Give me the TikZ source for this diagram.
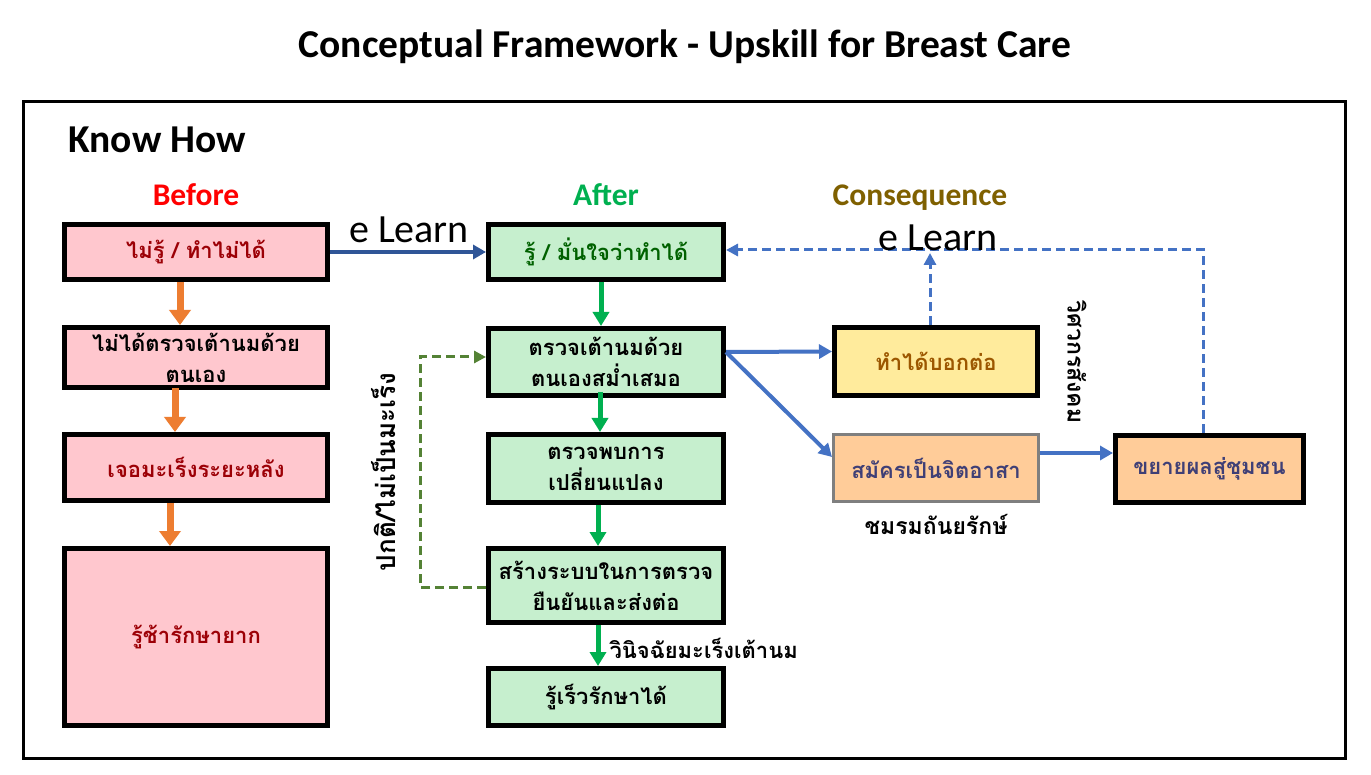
\documentclass[tikz,border=0pt]{standalone}
\usepackage{fontspec}
\setmainfont{Carlito}
\newfontfamily\thai[Script=Thai]{Loma}
\usetikzlibrary{arrows.meta}
\definecolor{pinkF}{HTML}{FFC7CE}
\definecolor{redT}{HTML}{9C0006}
\definecolor{greenF}{HTML}{C6EFCE}
\definecolor{greenT}{HTML}{006100}
\definecolor{yellowF}{HTML}{FFEB9C}
\definecolor{yellowT}{HTML}{9C5700}
\definecolor{orangeF}{HTML}{FFCC99}
\definecolor{inputT}{HTML}{3F3F76}
\definecolor{inputB}{HTML}{7F7F7F}
\definecolor{arrOrange}{HTML}{ED7D31}
\definecolor{arrGreen}{HTML}{00B050}
\definecolor{arrBlue}{HTML}{4472C4}
\definecolor{arrNavy}{HTML}{2F5597}
\definecolor{dashGreen}{HTML}{548235}
\definecolor{hdRed}{HTML}{FF0000}
\definecolor{hdGreen}{HTML}{00B050}
\definecolor{hdBrown}{HTML}{7F6000}
\begin{document}
\begin{tikzpicture}[x=1pt,y=-1pt,
  box/.style={draw=black, line width=5pt, align=center, inner sep=0pt,
    font=\thai\bfseries\fontsize{22}{31}\selectfont},
  pinkbox/.style={box, fill=pinkF, text=redT},
  greenbox/.style={box, fill=greenF, text=black},
  yellowbox/.style={box, fill=yellowF, text=yellowT},
  inputbox/.style={box, fill=orangeF, text=inputT},
  heading/.style={anchor=base, font=\bfseries\fontsize{31.5}{34}\selectfont},
  thailabel/.style={font=\thai\bfseries\fontsize{22}{26}\selectfont, text=black},
  elabel/.style={font=\fontsize{40}{42}\selectfont},
  orangearrow/.style={draw=arrOrange, line width=7pt, -{Triangle[width=21pt,length=15pt]}},
  greenarrow/.style={draw=arrGreen, line width=5pt, -{Triangle[width=16pt,length=14pt]}},
  bluearrow/.style={draw=arrBlue, line width=4pt, -{Triangle[width=14pt,length=13pt]}},
  navyarrow/.style={draw=arrNavy, line width=4pt, -{Triangle[width=14pt,length=13pt]}},
  greendash/.style={draw=dashGreen, line width=3pt, dash pattern=on 9pt off 5pt, -{Triangle[width=12pt,length=12pt]}},
  bluedash/.style={draw=arrBlue, line width=3pt, dash pattern=on 9pt off 5pt, -{Triangle[width=12pt,length=12pt]}}
]
\useasboundingbox (0,0) rectangle (1371,775);
\fill[white] (0,0) rectangle (1371,775);

% title and frame
\node[font=\bfseries\fontsize{39.5}{42}\selectfont] (title) at (685,47) {Conceptual Framework - Upskill for Breast Care};
\draw[line width=3pt] (23.5,101.5) rectangle (1345.5,758.5);
\node[anchor=west, font=\bfseries\fontsize{39.5}{42}\selectfont] (know) at (65,140) {Know How};

% headings
\node[heading, text=hdRed] (before) at (196,206) {Before};
\node[heading, text=hdGreen] (after) at (606,206) {After};
\node[heading, text=hdBrown] (conseq) at (920,206) {Consequence};

% before column
\node[pinkbox, minimum width=263pt, minimum height=55pt] (b1) at (196,252) {ไม่รู้ / ทำไม่ได้};
\node[pinkbox, text=black, minimum width=263pt, minimum height=60pt] (b2) at (196,357.5) {ไม่ได้ตรวจเต้านมด้วย\\ตนเอง};
\node[pinkbox, minimum width=263pt, minimum height=66pt] (b3) at (196,467.5) {เจอมะเร็งระยะหลัง};
\node[pinkbox, minimum width=263pt, minimum height=177pt] (b4) at (196,637) {รู้ช้ารักษายาก};

% after column
\node[greenbox, text=greenT, minimum width=235pt, minimum height=55pt] (a1) at (606,252) {รู้ / มั่นใจว่าทำได้};
\node[greenbox, minimum width=235pt, minimum height=67pt] (a2) at (606,362) {ตรวจเต้านมด้วย\\ตนเองสม่ำเสมอ};
\node[greenbox, minimum width=235pt, minimum height=68pt] (a3) at (606,468.5) {ตรวจพบการ\\เปลี่ยนแปลง};
\node[greenbox, minimum width=235pt, minimum height=74pt] (a4) at (606,585.5) {สร้างระบบในการตรวจ\\ยืนยันและส่งต่อ};
\node[greenbox, minimum width=235pt, minimum height=57pt] (a5) at (606,697) {รู้เร็วรักษาได้};

% consequence column
\node[yellowbox, minimum width=203pt, minimum height=68pt] (c1) at (936,361.5) {ทำได้บอกต่อ};
\node[inputbox, draw=inputB, line width=3pt, minimum width=205pt, minimum height=67pt] (c2) at (936,468) {สมัครเป็นจิตอาสา};
\node[inputbox, minimum width=188pt, minimum height=67pt] (c3) at (1209.5,469) {ขยายผลสู่ชุมชน};

% orange arrows
\draw[orangearrow] ([xshift=-16pt]b1.south) -- ([xshift=-16pt]b2.north);
\draw[orangearrow] ([xshift=-21pt,yshift=2pt]b2.south) -- ([xshift=-21pt]b3.north);
\draw[orangearrow] ([xshift=-26pt]b3.south) -- ([xshift=-26pt]b4.north);

% green arrows
\draw[greenarrow] ([xshift=-5pt]a1.south) -- ([xshift=-5pt]a2.north);
\draw[greenarrow] ([xshift=-6pt,yshift=6pt]a2.south) -- ([xshift=-6pt]a3.north);
\draw[greenarrow] ([xshift=-8pt]a3.south) -- ([xshift=-8pt]a4.north);
\draw[greenarrow] ([xshift=-8pt]a4.south) -- ([xshift=-8pt]a5.north);
\node[thailabel, anchor=west] (diag) at (606,648) {วินิจฉัยมะเร็งเต้านม};

% e Learn main
\draw[navyarrow] (b1.east) -- (a1.west);
\node[elabel] (el1) at (409,230) {e Learn};

% dashed green feedback
\draw[greendash] ([yshift=-1.5pt]a4.west) -- ++(-66,0) |- ([yshift=5pt]a2.west);
\node[thailabel, font=\thai\bfseries\fontsize{26}{28}\selectfont, rotate=90] (normal) at (384,472) {ปกติ/ไม่เป็นมะเร็ง};

% blue arrows
\draw[bluearrow] ([yshift=10pt]a2.east) -- ([yshift=10pt]c1.west);
\draw[bluearrow] ([yshift=10pt]a2.east) -- ([yshift=11pt]c2.west);
\draw[bluearrow] ([yshift=15pt]c2.east) -- ([yshift=16pt]c3.west);
\node[thailabel, font=\thai\bfseries\fontsize{23}{26}\selectfont, anchor=north] (club) at (936,511) {ชมรมถันยรักษ์};

% dashed blue feedback
\draw[bluedash] ([xshift=-6pt]c3.north) |- ([yshift=2pt]a1.east);
\coordinate (elTip) at (930,253);
\draw[bluedash] ([xshift=-6pt]c1.north) -- (elTip);
\node[elabel] (el2) at (938,238) {e Learn};
\node[thailabel, font=\thai\bfseries\fontsize{23}{26}\selectfont, rotate=-90] (engineer) at (1077,362) {วิศวกรสังคม};
\end{tikzpicture}
\end{document}
